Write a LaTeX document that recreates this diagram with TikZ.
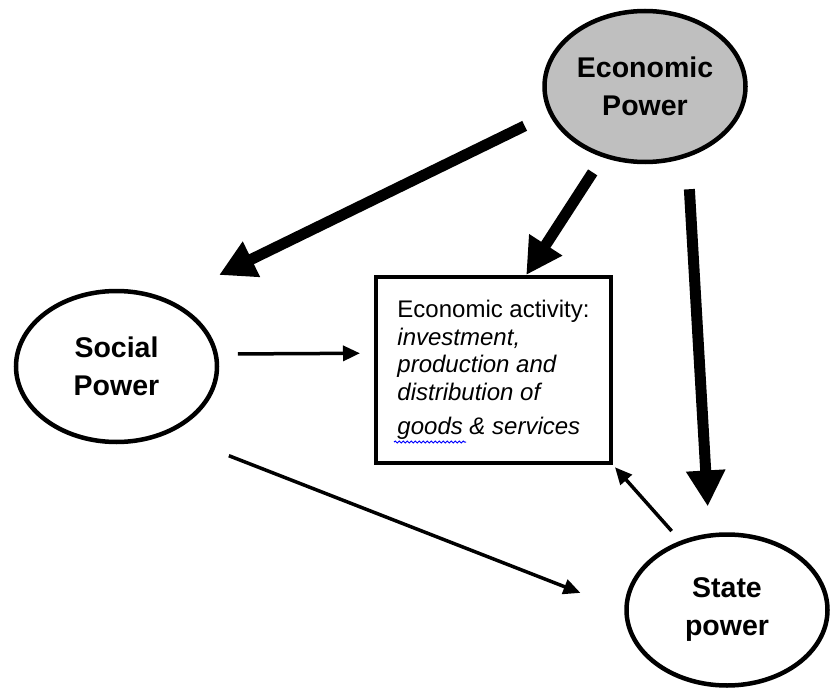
\documentclass[tikz,border=0pt]{standalone}
\usepackage{fontspec}
\setmainfont{Liberation Sans}
\usetikzlibrary{shapes.geometric,arrows.meta,decorations.pathmorphing}
\begin{document}
\begin{tikzpicture}[x=1pt,y=-1pt,
		power/.style={ellipse,draw,line width=4.5pt,minimum width=201pt,minimum height=151pt,inner sep=0pt,align=center,font=\fontsize{28.5}{38}\selectfont\bfseries},
		bigarrow/.style={line width=11pt,-{Triangle[length=36pt,width=37pt]}},
		smallarrow/.style={line width=3.5pt,-{Triangle[length=17pt,width=15pt]}}]
			% Fix the frame
			\useasboundingbox (0,0) rectangle (833,690);
			% Draw the three powers
			\node[power,fill=black!25] (econ) at (645,86.5) {Economic\\Power};
			\node[power] (social) at (116.5,366.5) {Social\\Power};
			\node[power] (state) at (727,610) {State\\power};
			% Draw the activity box
			\node[draw,line width=4pt,minimum width=235pt,minimum height=186pt,align=left,font=\fontsize{24}{27.5}\selectfont] (activity) at (493.5,370)
				{Economic activity:\\\textit{investment,}\\\textit{production and}\\\textit{distribution of}\\[7pt]\textit{goods \& services}};
			% Spell-check squiggle under goods
			\draw[blue,line width=1pt,decorate,decoration={snake,amplitude=0.9pt,segment length=4pt}] (394,442) -- (466,442);
			% Thick arrows out of economic power
			\draw[bigarrow,shorten <=27pt,shorten >=56pt] (econ.196) -- (social.52);
			\draw[bigarrow,shorten <=18pt] (econ.239) -- (activity.71);
			\draw[bigarrow,shorten <=32pt,shorten >=27pt] (econ.301) -- (state.103);
			% Thin arrows
			\draw[smallarrow,shorten <=20pt,shorten >=14pt] (social.7) -- (activity.172);
			\draw[smallarrow,shorten <=63pt,shorten >=47pt] (social.309) -- (state.west);
			\draw[smallarrow,shorten <=13pt,shorten >=3pt] (state.124) -- (activity.south east);
		\end{tikzpicture}
\end{document}
